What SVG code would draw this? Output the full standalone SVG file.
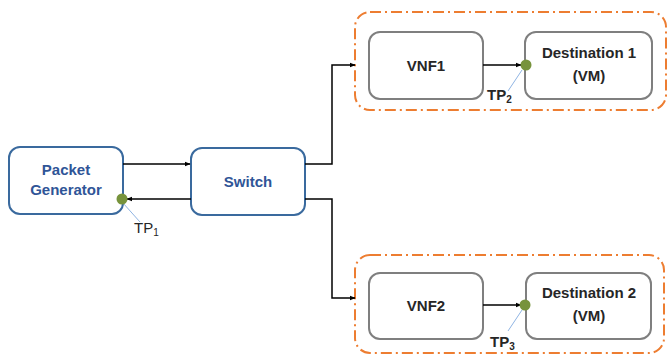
<svg xmlns="http://www.w3.org/2000/svg" width="667" height="359" viewBox="0 0 667 359">
<defs>
<style>
.blue{fill:#fff;stroke:#3A6A9E;stroke-width:2}
.gray{fill:#fff;stroke:#7F7F7F;stroke-width:2}
.cont{fill:none;stroke:#ED7D31;stroke-width:2;stroke-dasharray:11 4 2 4}
.bt{font-family:"Liberation Sans",Arial,sans-serif;font-weight:bold;font-size:15px;fill:#2F5597;text-anchor:middle}
.dt{font-family:"Liberation Sans",Arial,sans-serif;font-weight:bold;font-size:15px;fill:#262626;text-anchor:middle}
.tp{font-family:"Liberation Sans",Arial,sans-serif;font-size:15px;fill:#262626}
.tpb{font-family:"Liberation Sans",Arial,sans-serif;font-size:15px;font-weight:bold;fill:#262626}
.sub{font-size:10px}
.ln{fill:none;stroke:#000;stroke-width:1.5}
.lead{stroke:#8FB4E3;stroke-width:1}
.dot{fill:#77933C}
</style>
<marker id="ah" viewBox="0 0 10 10" refX="9" refY="5" markerWidth="6" markerHeight="6" orient="auto" markerUnits="userSpaceOnUse">
<path d="M0,1 L10,5 L0,9 z" fill="#000"/>
</marker>
</defs>
<g id="container1"><rect class="cont" x="355" y="12" width="311" height="98" rx="15"/></g>
<g id="container2"><rect class="cont" x="355" y="255" width="309" height="98" rx="15"/></g>
<g id="packet-generator">
<rect class="blue" x="9" y="147" width="114" height="67" rx="11"/>
<text class="bt" x="66" y="175">Packet</text>
<text class="bt" x="66" y="195">Generator</text>
</g>
<g id="switch">
<rect class="blue" x="191" y="148" width="114" height="67" rx="11"/>
<text class="bt" x="248" y="187">Switch</text>
</g>
<g id="vnf1">
<rect class="gray" x="369" y="32" width="114" height="67" rx="11"/>
<text class="dt" x="426" y="71">VNF1</text>
</g>
<g id="dest1">
<rect class="gray" x="525" y="32" width="127" height="67" rx="11"/>
<text class="dt" x="589" y="58">Destination 1</text>
<text class="dt" x="589" y="81">(VM)</text>
</g>
<g id="vnf2">
<rect class="gray" x="369" y="273" width="114" height="66" rx="11"/>
<text class="dt" x="426" y="311">VNF2</text>
</g>
<g id="dest2">
<rect class="gray" x="526" y="273" width="125" height="66" rx="11"/>
<text class="dt" x="589" y="298">Destination 2</text>
<text class="dt" x="589" y="321">(VM)</text>
</g>
<g id="connectors">
<line class="ln" x1="123" y1="164" x2="190" y2="164" marker-end="url(#ah)"/>
<line class="ln" x1="191" y1="199" x2="127" y2="199" marker-end="url(#ah)"/>
<polyline class="ln" points="305,164 332,164 332,65 355,65" marker-end="url(#ah)"/>
<polyline class="ln" points="305,199 332,199 332,298 355,298" marker-end="url(#ah)"/>
<line class="ln" x1="483" y1="65" x2="521" y2="65" marker-end="url(#ah)"/>
<line class="ln" x1="483" y1="305" x2="521" y2="305" marker-end="url(#ah)"/>
</g>
<g id="tp1">
<line class="lead" x1="123" y1="203" x2="140" y2="222"/>
<circle class="dot" cx="122" cy="199" r="5.5"/>
<text class="tp" x="134" y="233">TP<tspan class="sub" dy="3">1</tspan></text>
</g>
<g id="tp2">
<line class="lead" x1="522" y1="70" x2="508" y2="91"/>
<circle class="dot" cx="526" cy="65" r="5.5"/>
<text class="tpb" x="487" y="100">TP<tspan class="sub" dy="3">2</tspan></text>
</g>
<g id="tp3">
<line class="lead" x1="522" y1="310" x2="508" y2="331"/>
<circle class="dot" cx="525" cy="305" r="5.5"/>
<text class="tpb" x="490" y="347">TP<tspan class="sub" dy="3">3</tspan></text>
</g>
</svg>
